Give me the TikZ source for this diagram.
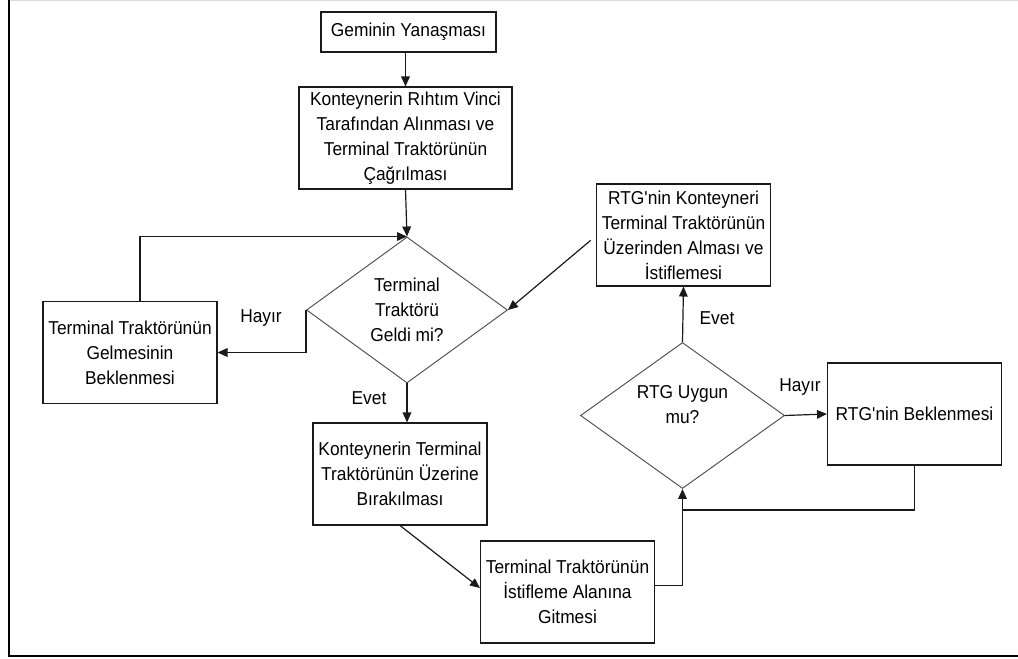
\documentclass[tikz,border=0pt]{standalone}
\usepackage{fontspec}
\setmainfont{Liberation Sans}[FakeStretch=0.93]
\usetikzlibrary{arrows.meta,positioning,calc,shapes.geometric}
\definecolor{Edge}{HTML}{1A1A1A}
\definecolor{DecEdge}{HTML}{4D4D4D}
\definecolor{TopRule}{HTML}{DADADA}
\tikzset{
yardbox/.style={draw=Edge, line width=0.8pt, fill=white, align=center, inner sep=2pt, minimum width=130.5pt, minimum height=76.5pt},
yarddec/.style={draw=DecEdge, line width=0.7pt, diamond, aspect=1.38, inner sep=0pt, align=center, minimum width=150.75pt, minimum height=109.5pt},
yardarrow/.style={-{Triangle[length=7.5pt,width=6.5pt]}, line width=0.9pt, draw=Edge},
yardline/.style={line width=0.9pt, draw=Edge},
yardlabel/.style={inner sep=1pt}
}

\begin{document}
\begin{tikzpicture}[font=\fontsize{14}{18.75}\selectfont, x=0.75pt, y=-0.75pt]
  \useasboundingbox (0,0) rectangle (1018,659);
  \draw[TopRule, line width=1pt] (9,0.7) -- (1018,0.7);
  \draw[line width=2.2pt] (9,0) -- (9,656) -- (1018,656);

  \node[yardbox, minimum width=131.25pt, minimum height=30pt] (ship) at (408.5,32) {Geminin Yanaşması};
  \node[yardbox, minimum width=159.75pt] (crane) at (405.5,138) {Konteynerin Rıhtım Vinci\\Tarafından Alınması ve\\Terminal Traktörünün\\Çağrılması};
  \node[yarddec] (d1) at (407,310) {Terminal\\Traktörü\\Geldi mi?};
  \node[yardbox] (wait) at (130,352.5) {Terminal Traktörünün\\Gelmesinin\\Beklenmesi};
  \node[yardbox] (drop) at (400,474) {Konteynerin Terminal\\Traktörünün Üzerine\\Bırakılması};
  \node[yardbox] (go) at (567.5,592) {Terminal Traktörünün\\İstifleme Alanına\\Gitmesi};
  \node[yarddec, minimum width=153pt, label={[align=center, yshift=8pt]center:RTG Uygun\\mu?}] (d2) at (682.5,415.5) {};
  \node[yardbox] (rtgw) at (914.5,414) {RTG\textquotesingle nin Beklenmesi};
  \node[yardbox] (rtgal) at (683.5,235) {RTG\textquotesingle nin Konteyneri\\Terminal Traktörünün\\Üzerinden Alması ve\\İstiflemesi};

  \node[yardlabel] (nol) at (261,318) {Hayır};
  \node[yardlabel] (yesl) at (369,398) {Evet};
  \node[yardlabel] (yesr) at (717,318) {Evet};
  \node[yardlabel] (nor) at (800,387) {Hayır};

  \coordinate (join) at (682.5,510);
  \draw[yardarrow] (crane.north |- ship.south) -- (crane.north);
  \draw[yardarrow] (crane.south) -- (d1.north);
  \draw[yardarrow] (d1.west) |- (wait.east);
  \draw[yardarrow] ([xshift=7.5pt]wait.north) |- (d1.north);
  \draw[yardarrow] (d1.south) -- (d1.south |- drop.north);
  \draw[yardarrow] (drop.south) -- ([yshift=3pt]go.west);
  \draw[yardarrow] ([yshift=5pt]go.east) -| (d2.south);
  \draw[yardline] (rtgw.south) |- (join);
  \draw[yardarrow] (d2.east) -- (rtgw.west);
  \draw[yardarrow] (d2.north) -- (rtgal.south);
  \draw[yardarrow] ([xshift=-4pt,yshift=-4pt]rtgal.west) -- (d1.east);
\end{tikzpicture}
\end{document}
